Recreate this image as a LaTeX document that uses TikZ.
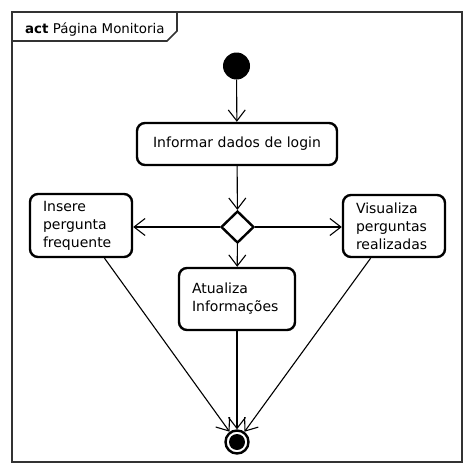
\documentclass[tikz,border=0pt]{standalone}
\usepackage{fontspec}
\setmainfont{DejaVu Sans}
\usetikzlibrary{arrows.meta,shapes.geometric}
\begin{document}
\begin{tikzpicture}[x=1pt,y=-1pt,
  every node/.style={font=\fontsize{14}{18}\selectfont},
  actbox/.style={draw=black,line width=2.4pt,rounded corners=8pt,fill=white,inner ysep=0pt,inner xsep=13pt,align=left},
  flow/.style={draw=black,line width=1.1pt,-{Straight Barb[length=11pt,width=17pt,line width=1.1pt]}},
]
\useasboundingbox (0,0) rectangle (474,471);
% frame
\draw[line width=1.6pt,draw=black!80] (12,12) rectangle (462,462);
\draw[line width=1.6pt,draw=black!80] (12,41) -- (167,41) -- (177,31) -- (177,12);
\node[anchor=base west,inner sep=0pt,font=\fontsize{13.4}{16}\selectfont] (title) at (25,33) {\textbf{act} Página Monitoria};
% nodes
\node[circle,fill=black,minimum size=27pt,inner sep=0pt] (init) at (236.5,66) {};
\node[actbox,align=center,text width=174pt,minimum height=42pt] (login) at (237,144) {Informar dados de login};
\node[diamond,draw=black,line width=2.4pt,fill=white,minimum width=33pt,minimum height=32pt,inner sep=0pt] (dec) at (237.5,227) {};
\node[actbox,text width=76pt,minimum height=63pt] (insere) at (81,225.5) {Insere\\pergunta\\frequente};
\node[actbox,text width=76pt,minimum height=62pt] (visual) at (394,226) {Visualiza\\perguntas\\realizadas};
\node[actbox,text width=90pt,minimum height=62pt] (atual) at (237,299) {Atualiza\\Informações};
\node[circle,draw=black,line width=2.4pt,minimum size=23pt,inner sep=0pt] (final) at (237,442) {};
\fill[black] (final.center) circle (8pt);
% connectors
\draw[flow] (init) -- (login);
\draw[flow] (login) -- (dec);
\draw[flow] (dec.west) -- (dec.west -| insere.east);
\draw[flow] (dec.east) -- (dec.east -| visual.west);
\draw[flow] (dec) -- (atual);
\draw[flow] (insere) -- (final);
\draw[flow] (atual) -- (final);
\draw[flow] (visual) -- (final);
\end{tikzpicture}
\end{document}
